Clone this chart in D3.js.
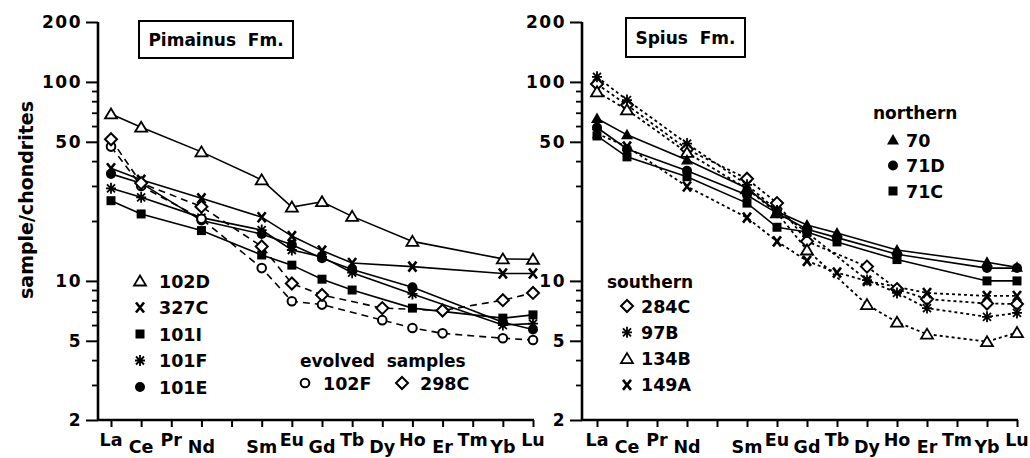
<!DOCTYPE html>
<html>
<head>
<meta charset="utf-8">
<script src="https://cdn.jsdelivr.net/npm/d3@7"></script>
<style>
  html, body { margin: 0; padding: 0; background: #fff; }
  svg { display: block; }
  text { font-family: "DejaVu Sans", "Liberation Sans", sans-serif; font-weight: bold; fill: #000; }
</style>
</head>
<body>
<svg id="chart" width="1030" height="458"></svg>
<script>
// ---------- DATA ----------
const elements = ["La","Ce","Pr","Nd","Pm","Sm","Eu","Gd","Tb","Dy","Ho","Er","Tm","Yb","Lu"];
const elementLabels = ["La","Ce","Pr","Nd","","Sm","Eu","Gd","Tb","Dy","Ho","Er","Tm","Yb","Lu"];
const majorTicks = [2, 5, 10, 50, 100, 200];
const minorTicks = [3, 4, 6, 7, 8, 9, 20, 30, 40, 60, 70, 80, 90];

// Pimainus Fm. (left)  [element, value]
const s102D = [["La",69],["Ce",59.2],["Nd",44.5],["Sm",32.2],["Eu",23.5],["Gd",25.0],["Tb",21.1],["Ho",15.8],["Yb",12.9],["Lu",12.85]];
const s327C = [["La",36.8],["Ce",32.2],["Nd",26.0],["Sm",20.9],["Eu",16.8],["Gd",14.2],["Tb",12.3],["Ho",11.8],["Yb",10.9],["Lu",10.9]];
const s101I = [["La",25.3],["Ce",21.7],["Nd",17.9],["Sm",13.5],["Eu",12.0],["Gd",10.2],["Tb",9.0],["Ho",7.3],["Yb",6.5],["Lu",6.75]];
const s101F = [["La",29.2],["Ce",26.3],["Nd",20.8],["Sm",18.0],["Eu",14.3],["Gd",13.2],["Tb",11.0],["Ho",8.6],["Yb",6.0],["Lu",6.1]];
const s101E = [["La",34.5],["Ce",31.0],["Nd",20.1],["Sm",17.2],["Eu",15.2],["Gd",13.0],["Tb",11.4],["Ho",9.3],["Yb",6.2],["Lu",5.7]];
const s102F = [["La",47.3],["Ce",30.0],["Nd",20.5],["Sm",11.6],["Eu",7.9],["Gd",7.6],["Dy",6.35],["Ho",5.8],["Er",5.45],["Yb",5.15],["Lu",5.05]];
const s298C = [["La",51.5],["Ce",31.0],["Nd",23.6],["Sm",14.9],["Eu",9.7],["Gd",8.5],["Dy",7.3],["Er",7.1],["Yb",8.0],["Lu",8.7]];

// Spius Fm. (right)
const s70   = [["La",65.5],["Ce",54.2],["Nd",40.5],["Sm",29.2],["Eu",22.3],["Gd",19.1],["Tb",17.4],["Ho",14.3],["Yb",12.4],["Lu",11.7]];
const s71D  = [["La",59.0],["Ce",46.0],["Nd",35.8],["Sm",27.0],["Eu",21.9],["Gd",18.2],["Tb",16.5],["Ho",13.6],["Yb",11.6],["Lu",11.6]];
const s71C  = [["La",53.5],["Ce",42.0],["Nd",33.4],["Sm",24.6],["Eu",18.6],["Gd",17.6],["Tb",15.7],["Ho",12.8],["Yb",10.0],["Lu",10.0]];
const s284C = [["La",97.6],["Ce",76.6],["Nd",45.9],["Sm",32.6],["Eu",24.6],["Gd",15.8],["Dy",11.8],["Ho",9.1],["Er",8.1],["Yb",7.7],["Lu",7.65]];
const s97B  = [["La",106],["Ce",81],["Nd",49.0],["Sm",30.4],["Eu",22.6],["Gd",17.5],["Dy",10.1],["Ho",8.7],["Er",7.3],["Yb",6.6],["Lu",6.9]];
const s134B = [["La",89.2],["Ce",72.4],["Nd",44.2],["Sm",29.0],["Eu",22.0],["Gd",14.3],["Dy",7.6],["Ho",6.2],["Er",5.4],["Yb",4.95],["Lu",5.5]];
const s149A = [["La",55.0],["Ce",47.3],["Nd",29.8],["Sm",20.8],["Eu",15.8],["Gd",12.6],["Tb",11.0],["Dy",10.0],["Er",8.7],["Yb",8.4],["Lu",8.4]];

const leftSeries = [
  {name:"102D", data:s102D, sym:"triOpen",  dash:null},
  {name:"327C", data:s327C, sym:"cross",    dash:null},
  {name:"101I", data:s101I, sym:"square",   dash:null},
  {name:"101F", data:s101F, sym:"asterisk", dash:null},
  {name:"101E", data:s101E, sym:"dot",      dash:null},
  {name:"102F", data:s102F, sym:"circOpen", dash:"7,5"},
  {name:"298C", data:s298C, sym:"diamond",  dash:"7,5"}
];
const rightSeries = [
  {name:"284C", data:s284C, sym:"diamond",  dash:"3,3"},
  {name:"97B",  data:s97B,  sym:"asterisk", dash:"3,3"},
  {name:"134B", data:s134B, sym:"triOpen",  dash:"3,3"},
  {name:"149A", data:s149A, sym:"cross",    dash:"3,3"},
  {name:"70",   data:s70,   sym:"triFill",  dash:null},
  {name:"71D",  data:s71D,  sym:"dot",      dash:null},
  {name:"71C",  data:s71C,  sym:"square",   dash:null}
];

// ---------- DRAWING ----------
const svg = d3.select("#chart");

function drawSymbol(g, sym, x, y) {
  const s = g.append("g").attr("transform", `translate(${x},${y})`);
  switch (sym) {
    case "triOpen":
      s.append("path").attr("d","M0,-5.5L6,4.5L-6,4.5Z").attr("fill","#fff").attr("stroke","#000").attr("stroke-width",1.8); break;
    case "triFill":
      s.append("path").attr("d","M0,-6L6,4.5L-6,4.5Z").attr("fill","#000"); break;
    case "square":
      s.append("rect").attr("x",-4.5).attr("y",-4.5).attr("width",9).attr("height",9).attr("fill","#000"); break;
    case "dot":
      s.append("circle").attr("r",5).attr("fill","#000"); break;
    case "circOpen":
      s.append("circle").attr("r",4.3).attr("fill","#fff").attr("stroke","#000").attr("stroke-width",2); break;
    case "diamond":
      s.append("path").attr("d","M0,-6L6,0L0,6L-6,0Z").attr("fill","#fff").attr("stroke","#000").attr("stroke-width",2); break;
    case "cross":
      s.append("path").attr("d","M-4,-5L4,5M4,-5L-4,5").attr("stroke","#000").attr("stroke-width",2.6).attr("fill","none"); break;
    case "asterisk":
      s.append("path").attr("d","M0,-5.5L0,5.5M-5,0L5,0M-4,-4L4,4M4,-4L-4,4").attr("stroke","#000").attr("stroke-width",1.8).attr("fill","none"); break;
  }
}

function panel(opts) {
  const g = svg.append("g");
  const x = d3.scalePoint().domain(elements).range([opts.x0, opts.x1]);
  const y = d3.scaleLog().domain([2, 200]).range([420, 22]);

  // x axis
  const xAxis = d3.axisBottom(x).tickSize(7).tickSizeOuter(0).tickFormat("");
  const xg = g.append("g").attr("transform", "translate(0,420)").call(xAxis);
  xg.select(".domain").attr("d", `M${opts.ax},0H${opts.x1 + 1}`).attr("stroke-width", 2.6);
  xg.selectAll(".tick line").attr("stroke-width", 2);

  elements.forEach((e, i) => {
    g.append("text").attr("x", x(e)).attr("y", i % 2 === 0 ? 446 : 453)
      .attr("text-anchor", "middle").attr("font-size", 17.5).text(elementLabels[i]);
  });

  // y axis major
  const yAxis = d3.axisLeft(y).tickValues(majorTicks).tickSize(12).tickSizeOuter(0).tickFormat(d3.format("d"));
  const yg = g.append("g").attr("transform", `translate(${opts.ax},0)`).call(yAxis);
  yg.select(".domain").attr("d", "M0,22V421").attr("stroke-width", 2.6);
  yg.selectAll(".tick line").attr("stroke-width", 2);
  yg.selectAll(".tick text").attr("x", -16).attr("font-size", 17).attr("letter-spacing", 1.5)
    .style("font-family", '"DejaVu Sans", sans-serif').style("font-weight", "bold").attr("fill", "#000");
  // y axis minor
  const yMinor = d3.axisLeft(y).tickValues(minorTicks).tickSize(6).tickSizeOuter(0).tickFormat("");
  const ym = g.append("g").attr("transform", `translate(${opts.ax},0)`).call(yMinor);
  ym.select(".domain").remove();
  ym.selectAll(".tick line").attr("stroke-width", 1.8);

  // lines and markers
  const line = d3.line().x(d => x(d[0])).y(d => y(d[1]));
  opts.series.forEach(s => {
    g.append("path").datum(s.data).attr("d", line).attr("fill", "none").attr("stroke", "#000")
      .attr("stroke-width", s.dash === "3,3" ? 1.8 : 1.6).attr("stroke-dasharray", s.dash);
  });
  opts.series.forEach(s => {
    s.data.forEach(d => drawSymbol(g, s.sym, x(d[0]), y(d[1])));
  });

  // title box
  g.append("rect").attr("x", opts.box[0]).attr("y", opts.box[1]).attr("width", opts.box[2]).attr("height", opts.box[3])
    .attr("fill", "#fff").attr("stroke", "#000").attr("stroke-width", 2);
  g.append("text").attr("x", opts.box[0] + opts.box[2] / 2).attr("y", opts.box[1] + opts.box[3] / 2 + 6)
    .attr("text-anchor", "middle").attr("font-size", 17).attr("xml:space", "preserve").text(opts.title);
  return g;
}

const L = panel({ax: 98, x0: 111, x1: 533, series: leftSeries, title: "Pimainus  Fm.", box: [139, 21, 154, 37]});
const R = panel({ax: 582, x0: 597, x1: 1017, series: rightSeries, title: "Spius  Fm.", box: [626, 18, 119, 39]});

// y-axis title
svg.append("text").attr("transform", "translate(33,200) rotate(-90)").attr("text-anchor", "middle")
  .attr("font-size", 19).text("sample/chondrites");

// legends
function legendItem(g, sym, mx, tx, cy, label) {
  drawSymbol(g, sym, mx, cy);
  g.append("text").attr("x", tx).attr("y", cy + 6.5).attr("font-size", 17.5).text(label);
}
const leftLegend = [["triOpen","102D"],["cross","327C"],["square","101I"],["asterisk","101F"],["dot","101E"]];
leftLegend.forEach((d, i) => legendItem(L, d[0], 140, 159, 281 + i * 26.5, d[1]));
L.append("text").attr("x", 300).attr("y", 367).attr("font-size", 17).attr("xml:space", "preserve").text("evolved  samples");
legendItem(L, "circOpen", 305, 323, 383, "102F");
legendItem(L, "diamond", 402, 420, 383, "298C");

R.append("text").attr("x", 873).attr("y", 119).attr("font-size", 17).text("northern");
const northLegend = [["triFill","70"],["dot","71D"],["square","71C"]];
northLegend.forEach((d, i) => legendItem(R, d[0], 893, 906, 140 + i * 25.5, d[1]));
R.append("text").attr("x", 607).attr("y", 288).attr("font-size", 17).text("southern");
const southLegend = [["diamond","284C"],["asterisk","97B"],["triOpen","134B"],["cross","149A"]];
southLegend.forEach((d, i) => legendItem(R, d[0], 627, 641, 306 + i * 26.3, d[1]));
</script>
</body>
</html>
